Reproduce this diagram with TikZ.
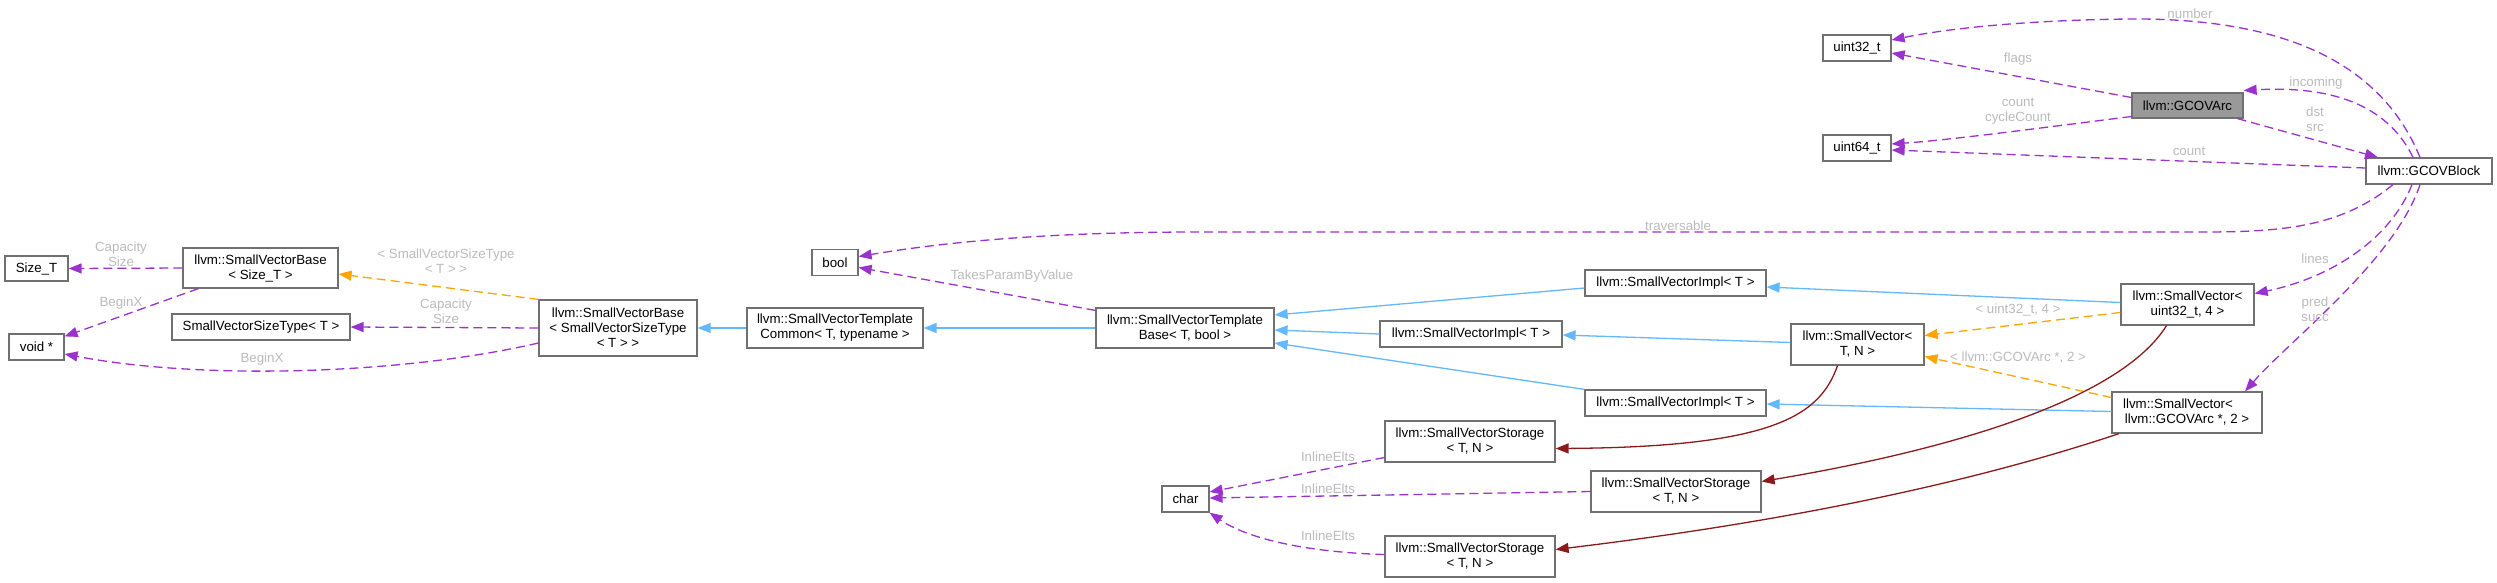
\documentclass[tikz,border=0pt]{standalone}
\usepackage{fontspec}
\setmainfont{Liberation Sans}
\usetikzlibrary{arrows.meta}
\definecolor{edgepurple}{HTML}{9A32CD}
\definecolor{edgeblue}{HTML}{63B8FF}
\definecolor{edgeorange}{HTML}{FFA500}
\definecolor{edgered}{HTML}{8B1A1A}
\definecolor{nodeborder}{HTML}{707070}
\definecolor{labelgray}{HTML}{BBBBBB}
\definecolor{arcfill}{HTML}{999999}
\begin{document}
\begin{tikzpicture}[x=1pt,y=-1pt,
  box/.style={draw=nodeborder, fill=white, line width=1.2pt, inner sep=0pt, align=center, font=\fontsize{13.3}{15}\selectfont},
  lbl/.style={text=labelgray, inner sep=0pt, align=center, font=\fontsize{13.3}{15}\selectfont},
  tipp/.style={-{Triangle[length=13pt,width=10pt]}},
  usage/.style={tipp, draw=edgepurple, line width=1.3pt, dash pattern=on 9pt off 5pt},
  tmpl/.style={tipp, draw=edgeorange, line width=1.3pt, dash pattern=on 9pt off 5pt},
  inherit/.style={tipp, draw=edgeblue, line width=1.3pt},
  privinh/.style={tipp, draw=edgered, line width=1.3pt}
]
\useasboundingbox (0,0) rectangle (2497,582);
\fill[white] (0,0) rectangle (2497,582);

% nodes
\node[box, minimum width=63pt, minimum height=25pt] (sizeT) at (36.5,268.5) {Size\_T};
\node[box, minimum width=55pt, minimum height=26pt] (voidp) at (36.5,347) {void *};
\node[box, minimum width=155pt, minimum height=40pt] (svbST) at (260.5,268) {llvm::SmallVectorBase\\< Size\_T >};
\node[box, minimum width=178pt, minimum height=26pt] (svst) at (261,327) {SmallVectorSizeType< T >};
\node[box, minimum width=158pt, minimum height=56pt] (svbSVST) at (618,328) {llvm::SmallVectorBase\\< SmallVectorSizeType\\< T > >};
\node[box, minimum width=176pt, minimum height=40pt] (common) at (835,328) {llvm::SmallVectorTemplate\\Common< T, typename >};
\node[box, minimum width=46pt, minimum height=26pt] (boolN) at (835,262.5) {bool};
\node[box, minimum width=178pt, minimum height=40pt] (tbase) at (1185,328) {llvm::SmallVectorTemplate\\Base< T, bool >};
\node[box, minimum width=181pt, minimum height=26pt] (implA) at (1675.5,283) {llvm::SmallVectorImpl< T >};
\node[box, minimum width=182pt, minimum height=26pt] (implB) at (1471,334) {llvm::SmallVectorImpl< T >};
\node[box, minimum width=181pt, minimum height=26pt] (implC) at (1675.5,403) {llvm::SmallVectorImpl< T >};
\node[box, minimum width=133pt, minimum height=41pt] (svTN) at (1857.5,344.5) {llvm::SmallVector<\\T, N >};
\node[box, minimum width=133pt, minimum height=41pt] (sv32) at (2187.5,304.5) {llvm::SmallVector<\\uint32\_t, 4 >};
\node[box, minimum width=150pt, minimum height=41pt] (svArc) at (2187,412.5) {llvm::SmallVector<\rule{18pt}{0pt}\\llvm::GCOVArc *, 2 >};
\node[box, minimum width=170pt, minimum height=41pt] (stor1) at (1470,441.5) {llvm::SmallVectorStorage\\< T, N >};
\node[box, minimum width=170pt, minimum height=41pt] (stor2) at (1676,491.5) {llvm::SmallVectorStorage\\< T, N >};
\node[box, minimum width=170pt, minimum height=41pt] (stor3) at (1470,556.5) {llvm::SmallVectorStorage\\< T, N >};
\node[box, minimum width=47pt, minimum height=26pt] (charN) at (1185.5,499) {char};
\node[box, minimum width=68pt, minimum height=26pt] (u32) at (1857,48) {uint32\_t};
\node[box, minimum width=68pt, minimum height=26pt] (u64) at (1857,148) {uint64\_t};
\node[box, fill=arcfill, minimum width=111pt, minimum height=25pt] (arc) at (2187.5,105.5) {llvm::GCOVArc};
\node[box, minimum width=126pt, minimum height=26pt] (block) at (2429,171) {llvm::GCOVBlock};

% edges: left part
\draw[usage] (svbST.west) -- (sizeT.east);
\draw[usage] ([xshift=16pt]svbST.south west) -- ([yshift=-3pt]voidp.north east);
\draw[usage] (svbSVST.west) -- (svst.east);
\draw[usage] ([yshift=-15pt]svbSVST.west) .. controls (400,375) and (200,380) .. ([yshift=-7pt]voidp.east);
\draw[tmpl] (svbSVST.north west) -- ([yshift=-6pt]svbST.east);
\draw[inherit] (common.west) -- (svbSVST.east);
\draw[inherit] (tbase.west) -- (common.east);
\draw[usage] ([yshift=-3pt]tbase.north west) -- ([yshift=-5pt]boolN.east);
\draw[usage] ([xshift=-36pt]block.south) .. controls (2340,228) and (2280,232) .. (2200,232) -- (1200,232) .. controls (1040,232) and (940,243) .. ([yshift=6pt]boolN.east);

% inheritance to SmallVectorTemplateBase
\draw[inherit] ([yshift=-5pt]implA.west) -- ([yshift=13pt]tbase.east);
\draw[inherit] (implB.west) -- ([yshift=-2pt]tbase.east);
\draw[inherit] (implC.north west) -- ([yshift=-15pt]tbase.east);
\draw[inherit] ([yshift=2pt]svTN.west) -- ([yshift=-1pt]implB.east);
\draw[inherit] ([yshift=2pt]sv32.west) -- ([yshift=-4pt]implA.east);
\draw[inherit] ([yshift=1pt]svArc.west) -- ([yshift=-1pt]implC.east);
\draw[tmpl] ([yshift=-8pt]sv32.west) -- ([yshift=9pt]svTN.east);
\draw[tmpl] ([yshift=15pt]svArc.west) -- ([yshift=-12pt]svTN.east);

% private inheritance to storage
\draw[privinh] ([xshift=-20pt]svTN.south) .. controls (1820,415) and (1775,447) .. ([yshift=-7pt]stor1.east);
\draw[privinh] ([xshift=-21pt]sv32.south) .. controls (2120,400) and (1950,450) .. ([yshift=10pt]stor2.east);
\draw[privinh] ([xshift=-68pt]svArc.south) .. controls (1980,480) and (1800,520) .. ([yshift=7pt]stor3.east);

% storage to char
\draw[usage] ([yshift=-16pt]stor1.west) -- ([yshift=7pt]charN.east);
\draw[usage] (stor2.west) -- ([yshift=1pt]charN.east);
\draw[usage] ([yshift=2pt]stor3.west) .. controls (1300,552) and (1245,537) .. (charN.south east);

% GCOV part
\draw[usage] ([yshift=8pt]arc.west) -- ([yshift=-5pt]u32.east);
\draw[usage] ([yshift=-11pt]arc.west) .. controls (2040,128) and (1950,140) .. ([yshift=4pt]u64.east);
\draw[usage] ([yshift=3pt]block.west) -- ([yshift=-2pt]u64.east);
\draw[usage] ([xshift=-9pt]block.north) .. controls (2380,60) and (2280,18) .. (2130,19) .. controls (2030,20) and (1950,28) .. ([yshift=8pt]u32.east);
\draw[usage] ([xshift=-16pt]block.north) .. controls (2390,110) and (2340,85) .. ([yshift=15pt]arc.east);
\draw[usage] ([xshift=50pt]arc.south) -- ([xshift=-51pt]block.north);
\draw[usage] ([xshift=-17pt]block.south) .. controls (2390,240) and (2330,278) .. ([yshift=11pt]sv32.east);
\draw[usage] ([xshift=-9pt]block.south) .. controls (2395,260) and (2290,340) .. ([xshift=58pt]svArc.north);

% labels
\node[lbl] (lCap1) at (121,254.5) {Capacity\\Size};
\node[lbl] (lBeg1) at (121,303) {BeginX};
\node[lbl] (lBeg2) at (262,359) {BeginX};
\node[lbl] (lTmpl1) at (446,261.5) {< SmallVectorSizeType\\< T > >};
\node[lbl] (lCap2) at (446,311.5) {Capacity\\Size};
\node[lbl] (lTake) at (1012,276) {TakesParamByValue};
\node[lbl] (lTrav) at (1678,226) {traversable};
\node[lbl] (lLines) at (2315,259) {lines};
\node[lbl] (lPred) at (2315,309) {pred\\succ};
\node[lbl] (lU32) at (2018,310) {< uint32\_t, 4 >};
\node[lbl] (lArc2) at (2018,358) {< llvm::GCOVArc *, 2 >};
\node[lbl] (lIn1) at (1328,457) {InlineElts};
\node[lbl] (lIn2) at (1328,489) {InlineElts};
\node[lbl] (lIn3) at (1328,536) {InlineElts};
\node[lbl] (lNum) at (2190,14) {number};
\node[lbl] (lFlags) at (2018,59) {flags};
\node[lbl] (lCnt2) at (2018,111) {count\\cycleCount};
\node[lbl] (lCnt) at (2189,151) {count};
\node[lbl] (lInc) at (2316,83) {incoming};
\node[lbl] (lDst) at (2315,119.5) {dst\\src};
\end{tikzpicture}
\end{document}
